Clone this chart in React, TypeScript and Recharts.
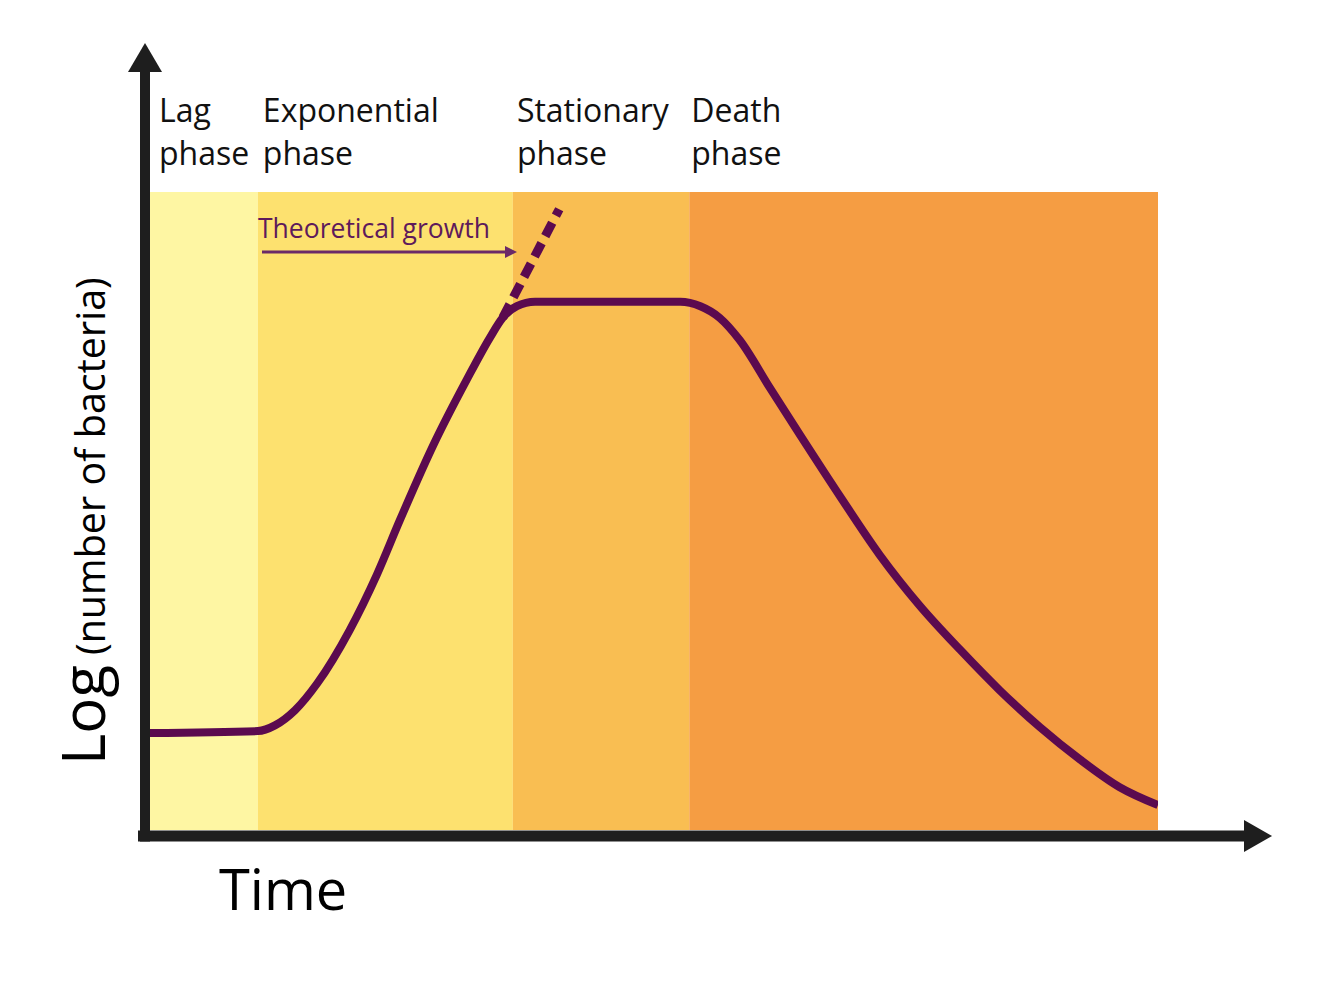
import React from 'react';
import { ComposedChart, Line, XAxis, YAxis, ReferenceArea } from 'recharts';

const WIDTH = 1334;
const HEIGHT = 1005;
const PLOT = { left: 150, top: 192, right: 1158, bottom: 830 };
const FONT = '"Open Sans", "Noto Sans", sans-serif';

// phases: label lines, start and end on the time axis (0-100)
const phaseNames = [['Lag', 'phase'], ['Exponential', 'phase'], ['Stationary', 'phase'], ['Death', 'phase']];
const phaseStart = [0, 10.7, 36.0, 53.5];
const phaseEnd = [10.7, 36.0, 53.5, 100];
const phaseColors = ['#FEF6A3', '#FDE16F', '#F9BE52', '#F59D43'];
const labelShift = [9, 5, 4, 2];

// measured growth curve, log(number of bacteria) on a 0-100 scale
const time = [0, 10.7, 12.4, 14.4, 16.6, 19.8, 22.5, 24.8, 28.1, 31.4, 33.7, 35.0, 36.4, 38.2, 52.6, 54.6, 56.5, 58.5, 61.5, 64.5, 68.5, 72.4, 76.4, 80.4, 84.3, 88.3, 92.3, 96.2, 100];
const logCount = [15.2, 15.5, 16.4, 18.8, 23.0, 31.3, 40.0, 48.6, 60.3, 70.5, 77.1, 80.3, 82.1, 82.8, 82.8, 82.1, 80.3, 76.8, 69.3, 61.9, 52.2, 43.1, 35.1, 28.2, 21.9, 16.1, 11.0, 6.7, 3.9];

// theoretical (unlimited) growth continuation
const theoryTime = [35.0, 40.6];
const theoryLog = [80.3, 97.3];

const curve = time.map((t, i) => ({ t, v: logCount[i] }));
const theory = theoryTime.map((t, i) => ({ t, v: theoryLog[i] }));

const sx = (t: number) => PLOT.left + (t / 100) * (PLOT.right - PLOT.left);

const AXIS = '#1E1E1E';
const PURPLE = '#5B0A4F';

const Overlay = () => {
  const yAxisX = PLOT.left - 5;
  const xAxisY = PLOT.bottom + 6;
  return (
    <svg
      width={WIDTH}
      height={HEIGHT}
      style={{ position: 'absolute', left: 0, top: 0, pointerEvents: 'none' }}
    >
      {/* axes with arrow heads */}
      <rect x={yAxisX - 5} y={72} width={10} height={xAxisY + 5.5 - 72} fill={AXIS} />
      <polygon points={`${yAxisX - 17},72 ${yAxisX + 17},72 ${yAxisX},43`} fill={AXIS} />
      <rect x={138} y={xAxisY - 5.5} width={1244 - 138} height={11} fill={AXIS} />
      <polygon points={`1244,${xAxisY - 16} 1244,${xAxisY + 16} 1272,${xAxisY}`} fill={AXIS} />

      {/* phase labels */}
      {phaseNames.map((lines, i) => {
        const x = sx(phaseStart[i]) + labelShift[i];
        return (
          <text key={i} fontFamily={FONT} fontSize={32} fill="#111">
            <tspan x={x} y={122}>{lines[0]}</tspan>
            <tspan x={x} y={165}>{lines[1]}</tspan>
          </text>
        );
      })}

      {/* theoretical growth note */}
      <text x={258} y={238} fontFamily={FONT} fontSize={26.5} fill="#5E1A5B">Theoretical growth</text>
      <line x1={262} y1={252} x2={508} y2={252} stroke="#6B2A68" strokeWidth={3} />
      <polygon points="505,246 505,258 517,252" fill="#6B2A68" />

      {/* axis titles */}
      <text x={219} y={910} fontFamily={FONT} fontSize={56} fill="#000">Time</text>
      <text transform="translate(105,765) rotate(-90)" fontFamily={FONT} fill="#000">
        <tspan fontSize={60}>Log</tspan>
        <tspan fontSize={39.5} dx={10}>(number of bacteria)</tspan>
      </text>
    </svg>
  );
};

export default function App() {
  return (
    <div style={{ position: 'absolute', left: 0, top: 0, width: WIDTH, height: HEIGHT, background: '#fff' }}>
      <ComposedChart
        width={WIDTH}
        height={HEIGHT}
        margin={{ left: PLOT.left, top: PLOT.top, right: WIDTH - PLOT.right, bottom: HEIGHT - PLOT.bottom }}
      >
        <XAxis type="number" dataKey="t" domain={[0, 100]} hide allowDataOverflow />
        <YAxis type="number" dataKey="v" domain={[0, 100]} hide allowDataOverflow />
        {phaseStart.map((s, i) => (
          <ReferenceArea key={i} x1={s} x2={phaseEnd[i]} y1={0} y2={100} fill={phaseColors[i]} fillOpacity={1} stroke="none" />
        ))}
        <Line
          data={theory}
          dataKey="v"
          type="linear"
          stroke={PURPLE}
          strokeWidth={9}
          strokeDasharray="15 8"
          strokeLinecap="butt"
          dot={false}
          isAnimationActive={false}
        />
        <Line
          data={curve}
          dataKey="v"
          type="monotone"
          stroke={PURPLE}
          strokeWidth={8}
          dot={false}
          isAnimationActive={false}
        />
      </ComposedChart>
      <Overlay />
    </div>
  );
}
